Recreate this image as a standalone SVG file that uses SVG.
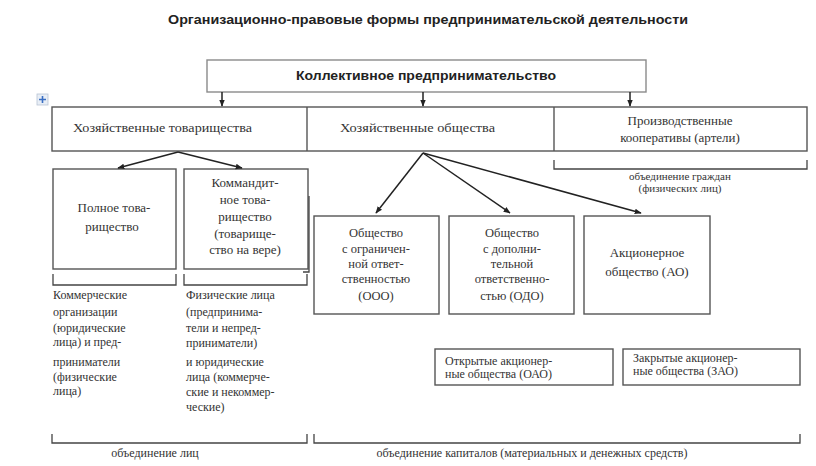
<svg xmlns="http://www.w3.org/2000/svg" width="816" height="466" viewBox="0 0 816 466">
<style>
.bg{fill:#fff}
.box{fill:#fff;stroke:#555;stroke-width:1.4}
.tbox{fill:#fff;stroke:#8a8a8a;stroke-width:1.4}
.sans{font-family:"Liberation Sans",Arial,sans-serif;font-weight:bold;font-size:13px;fill:#222}
.ser{font-family:"Liberation Serif","DejaVu Serif",serif;font-size:13px;fill:#333}
.s12{font-family:"Liberation Serif","DejaVu Serif",serif;font-size:12.5px;fill:#333}
.sm{font-family:"Liberation Serif","DejaVu Serif",serif;font-size:12px;fill:#333}
.xs{font-family:"Liberation Serif","DejaVu Serif",serif;font-size:11px;fill:#333}
.c{text-anchor:middle}
.ln{stroke:#222;stroke-width:1.5;fill:none}
.br{stroke:#444;stroke-width:1.3;fill:none}
</style>
<defs>
<marker id="ah" viewBox="0 0 10 10" refX="9" refY="5" markerWidth="7" markerHeight="7" orient="auto" markerUnits="userSpaceOnUse">
<path d="M0,1 L10,5 L0,9 z" fill="#222"/>
</marker>
</defs>
<rect class="bg" x="0" y="0" width="816" height="466"/>

<g id="title"><text class="sans c" x="428" y="24" textLength="520" lengthAdjust="spacingAndGlyphs">Организационно-правовые  формы  предпринимательской деятельности</text></g>

<g id="n-collective">
<rect class="tbox" x="207" y="60" width="439" height="32"/>
<text class="sans c" x="426" y="80" textLength="260" lengthAdjust="spacingAndGlyphs">Коллективное предпринимательство</text>
</g>

<g id="icon">
<rect x="37" y="94" width="11" height="11" fill="#e8eef6" stroke="#b8c4d4" stroke-width="0.8"/>
<path d="M42.5,96 v7 M39,99.5 h7" stroke="#3a6fc4" stroke-width="1.6"/>
</g>

<g id="row1">
<rect class="box" x="52" y="107" width="755" height="44"/>
<line class="box" x1="307" y1="107" x2="307" y2="151"/>
<line class="box" x1="554" y1="107" x2="554" y2="151"/>
</g>
<g id="n-hoz-tov"><text class="ser" x="73" y="132" textLength="179" lengthAdjust="spacingAndGlyphs">Хозяйственные товарищества</text></g>
<g id="n-hoz-ob"><text class="ser" x="340" y="132" textLength="155" lengthAdjust="spacingAndGlyphs">Хозяйственные общества</text></g>
<g id="n-proizv">
<text class="ser c" x="680" y="125">Производственные</text>
<text class="ser c" x="680" y="142">кооперативы (артели)</text>
</g>

<g id="n-polnoe">
<rect class="box" x="53" y="169" width="123" height="100"/>
<text class="ser c" x="114" y="212">Полное това-</text>
<text class="ser c" x="112" y="231">рищество</text>
</g>
<g id="n-kommandit">
<rect class="box" x="184" y="169" width="124" height="100"/>
<text class="ser c" x="245" y="187">Коммандит-</text>
<text class="ser c" x="245" y="204">ное това-</text>
<text class="ser c" x="245" y="221">рищество</text>
<text class="ser c" x="245" y="238">(товарище-</text>
<text class="ser c" x="245" y="254">ство на вере)</text>
</g>

<g id="n-ooo">
<rect class="box" x="314" y="216" width="125" height="98"/>
<text class="s12 c" x="376" y="237">Общество</text>
<text class="s12 c" x="376" y="253">с ограничен-</text>
<text class="s12 c" x="376" y="268">ной ответ-</text>
<text class="s12 c" x="376" y="283">ственностью</text>
<text class="s12 c" x="376" y="300">(ООО)</text>
</g>
<g id="n-odo">
<rect class="box" x="449" y="216" width="125" height="98"/>
<text class="s12 c" x="512" y="237">Общество</text>
<text class="s12 c" x="512" y="253">с дополни-</text>
<text class="s12 c" x="512" y="268">тельной</text>
<text class="s12 c" x="512" y="283">ответственно-</text>
<text class="s12 c" x="512" y="300">стью (ОДО)</text>
</g>
<g id="n-ao">
<rect class="box" x="584" y="216" width="126" height="98"/>
<text class="ser c" x="647" y="257">Акционерное</text>
<text class="ser c" x="647" y="276">общество (АО)</text>
</g>

<g id="n-oao">
<rect class="box" x="435" y="349" width="178" height="36"/>
<text class="sm" x="445" y="365">Открытые акционер-</text>
<text class="sm" x="445" y="378">ные общества (ОАО)</text>
</g>
<g id="n-zao">
<rect class="box" x="623" y="349" width="177" height="36"/>
<text class="sm" x="633" y="362">Закрытые акционер-</text>
<text class="sm" x="633" y="375">ные общества (ЗАО)</text>
</g>

<g id="n-comm-text">
<text class="sm" x="53" y="299">Коммерческие</text>
<text class="sm" x="53" y="316">организации</text>
<text class="sm" x="53" y="332">(юридические</text>
<text class="sm" x="53" y="346">лица) и пред-</text>
<text class="sm" x="53" y="366">приниматели</text>
<text class="sm" x="53" y="381">(физические</text>
<text class="sm" x="53" y="395">лица)</text>
</g>
<g id="n-phys-text">
<text class="sm" x="186" y="299">Физические лица</text>
<text class="sm" x="186" y="316">(предпринима-</text>
<text class="sm" x="186" y="332">тели и непред-</text>
<text class="sm" x="186" y="347">приниматели)</text>
<text class="sm" x="186" y="366">и юридические</text>
<text class="sm" x="186" y="381">лица (коммерче-</text>
<text class="sm" x="186" y="396">ские и некоммер-</text>
<text class="sm" x="186" y="411">ческие)</text>
</g>

<g id="brackets">
<path class="br" d="M554,160 V169 H807 V160"/>
<path class="br" d="M53,274 V285 H176 V274"/>
<path class="br" d="M184,274 V285 H307 V274"/>
<path class="br" d="M309,196 V272 H303"/>
<path class="br" d="M52,434 V443 H307 V434"/>
<path class="br" d="M314,434 V443 H800 V434"/>
</g>
<g id="bracket-labels">
<text class="xs c" x="680" y="180">объединение граждан</text>
<text class="xs c" x="680" y="192">(физических лиц)</text>
<text class="sm c" x="155" y="457">объединение лиц</text>
<text class="sm c" x="532" y="457">объединение капиталов (материальных и денежных средств)</text>
</g>

<g id="connectors">
<line class="ln" x1="222" y1="92" x2="222" y2="106" marker-end="url(#ah)"/>
<line class="ln" x1="423" y1="92" x2="423" y2="106" marker-end="url(#ah)"/>
<line class="ln" x1="630" y1="92" x2="630" y2="106" marker-end="url(#ah)"/>
<line class="ln" x1="178" y1="152" x2="118" y2="168" marker-end="url(#ah)"/>
<line class="ln" x1="178" y1="152" x2="242" y2="168" marker-end="url(#ah)"/>
<line class="ln" x1="423" y1="153" x2="376" y2="213" marker-end="url(#ah)"/>
<line class="ln" x1="423" y1="153" x2="510" y2="213" marker-end="url(#ah)"/>
<line class="ln" x1="423" y1="153" x2="641" y2="213" marker-end="url(#ah)"/>
</g>
</svg>
